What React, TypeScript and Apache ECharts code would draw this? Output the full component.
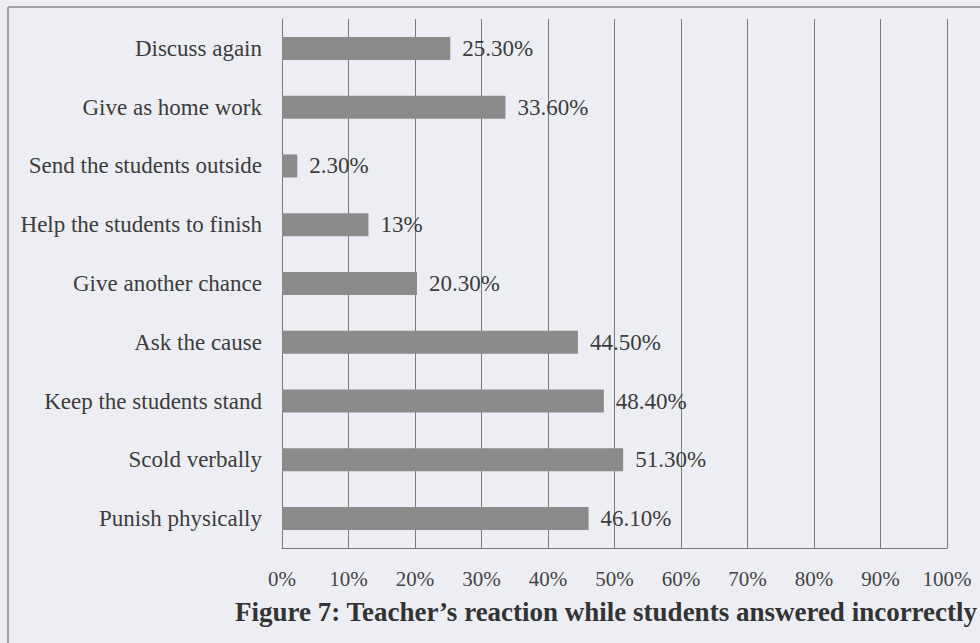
import React, { useEffect, useRef } from "react";
import * as echarts from "echarts";

const categories = [
  "Discuss again",
  "Give as home work",
  "Send the students outside",
  "Help the students to finish",
  "Give another chance",
  "Ask the cause",
  "Keep the students stand",
  "Scold verbally",
  "Punish physically",
];
const values = [25.3, 33.6, 2.3, 13, 20.3, 44.5, 48.4, 51.3, 46.1];
const valueLabels = ["25.30%", "33.60%", "2.30%", "13%", "20.30%", "44.50%", "48.40%", "51.30%", "46.10%"];
const xTicks = { min: 0, max: 100, interval: 10 };
const caption = "Figure 7: Teacher\u2019s reaction while students answered incorrectly";

const FONT = "'Liberation Serif', 'DejaVu Serif', serif";

export default function App() {
  const ref = useRef<HTMLDivElement>(null);
  useEffect(() => {
    if (!ref.current) return;
    const chart = echarts.init(ref.current, undefined, { renderer: "svg" });
    chart.setOption({
      animation: false,
      backgroundColor: "#eceef3",
      textStyle: { fontFamily: FONT },
      grid: { left: 282, right: 33, top: 19, bottom: 95, containLabel: false },
      xAxis: {
        type: "value",
        min: xTicks.min,
        max: xTicks.max,
        interval: xTicks.interval,
        axisLine: { show: true, lineStyle: { color: "#7a7a7a", width: 1 } },
        axisTick: { show: false },
        splitLine: { show: true, lineStyle: { color: "#7a7a7a", width: 1 } },
        axisLabel: {
          formatter: "{value}%",
          margin: 20,
          color: "#444",
          fontSize: 21,
          fontFamily: FONT,
        },
      },
      yAxis: {
        type: "category",
        data: categories,
        inverse: true,
        axisLine: { show: true, lineStyle: { color: "#7a7a7a", width: 1 } },
        axisTick: { show: false },
        axisLabel: {
          margin: 20,
          color: "#3c3c3c",
          fontSize: 23,
          fontFamily: FONT,
        },
      },
      series: [
        {
          type: "bar",
          data: values,
          barWidth: 23,
          itemStyle: { color: "#8b8b8b" },
          label: {
            show: true,
            position: "right",
            distance: 12,
            color: "#3c3c3c",
            fontSize: 23,
            fontFamily: FONT,
            formatter: (p: any) => valueLabels[p.dataIndex],
          },
        },
      ],
      graphic: [
        {
          type: "line",
          shape: { x1: 8, y1: 7, x2: 980, y2: 7 },
          style: { stroke: "#8a8a8a", lineWidth: 1.5 },
        },
        {
          type: "line",
          shape: { x1: 8, y1: 7, x2: 8, y2: 643 },
          style: { stroke: "#8a8a8a", lineWidth: 1.5 },
        },
        {
          type: "text",
          x: 606,
          y: 612,
          style: {
            text: caption,
            fill: "#333",
            font: `bold 27px ${FONT}`,
            textAlign: "center",
            textVerticalAlign: "middle",
          },
        },
      ],
    });
    return () => chart.dispose();
  }, []);
  return (
    <div
      ref={ref}
      style={{ position: "fixed", left: 0, top: 0, width: 980, height: 643 }}
    />
  );
}
